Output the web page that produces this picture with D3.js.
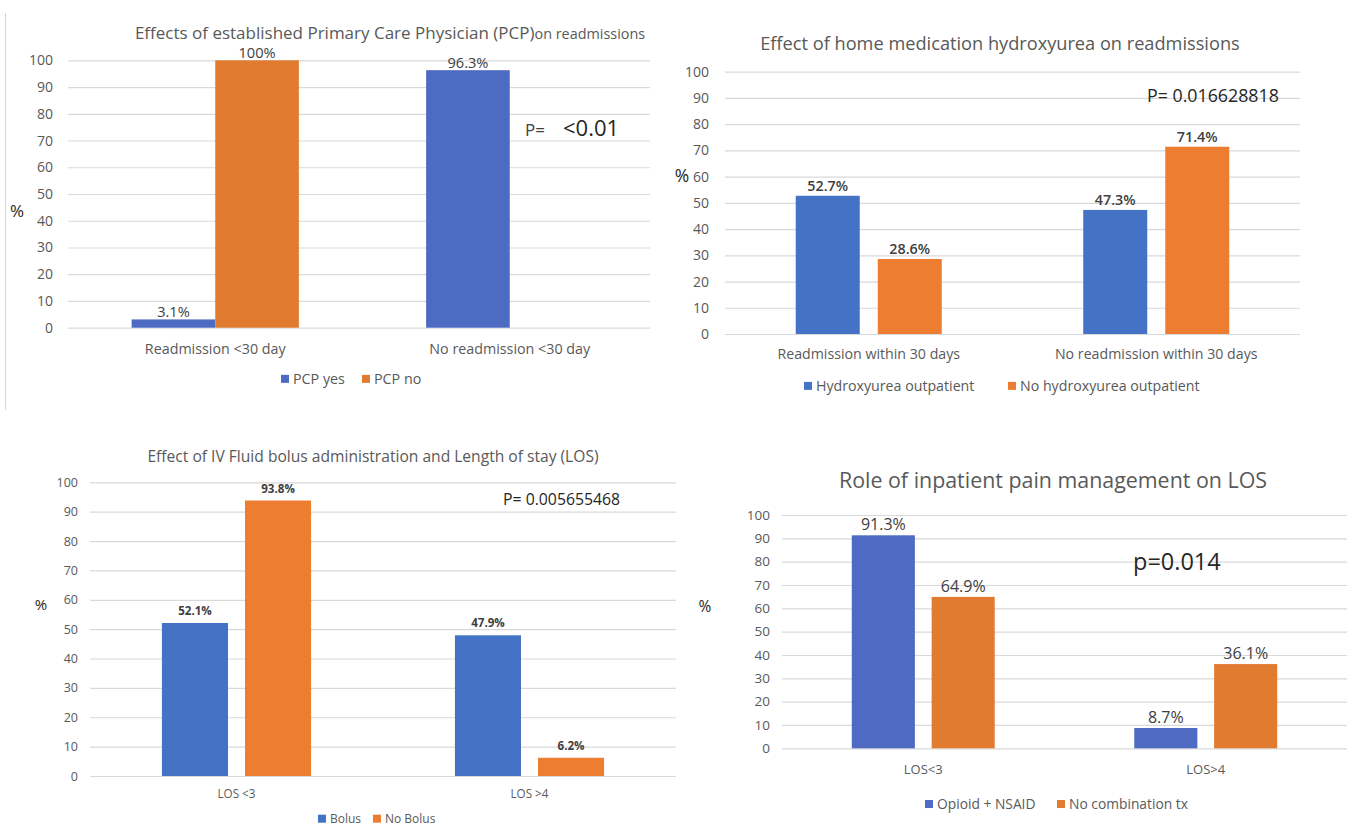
<!DOCTYPE html>
<html>
<head>
<meta charset="utf-8">
<script src="https://cdn.jsdelivr.net/npm/d3@7"></script>
<style>
  html, body { margin: 0; padding: 0; background: #ffffff; }
  svg { display: block; font-family: "Open Sans", "Noto Sans", sans-serif; }
</style>
</head>
<body>
<svg id="chart" width="1348" height="828"></svg>
<script>
// ---- data ----
const yTicks = [0, 10, 20, 30, 40, 50, 60, 70, 80, 90, 100];

const pcpCategories = ["Readmission <30 day", "No readmission <30 day"];
const pcpSeries = ["PCP yes", "PCP no"];
const pcpYes = [3.1, 96.3];
const pcpNo = [100, 0];

const hydroxyCategories = ["Readmission within 30 days", "No readmission within 30 days"];
const hydroxySeries = ["Hydroxyurea outpatient", "No hydroxyurea outpatient"];
const hydroxyYes = [52.7, 47.3];
const hydroxyNo = [28.6, 71.4];

const bolusCategories = ["LOS <3", "LOS >4"];
const bolusSeries = ["Bolus", "No Bolus"];
const bolusYes = [52.1, 47.9];
const bolusNo = [93.8, 6.2];

const painCategories = ["LOS<3", "LOS>4"];
const painSeries = ["Opioid + NSAID", "No combination tx"];
const painCombo = [91.3, 8.7];
const painNone = [64.9, 36.1];

// ---- panel layout and styling ----
const svg = d3.select("#chart");

const panels = [
  {
    categories: pcpCategories, series: pcpSeries, values: [pcpYes, pcpNo],
    colors: ["#4e6bc3", "#e07b2f"],
    x0: 68, x1: 657, gridEnd: 650, yTop: 60.3, yBottom: 327.7,
    groupFrac: 0.568, gap: 0,
    title: [{ text: "Effects of established Primary Care Physician (PCP)", size: 17 },
            { text: "on readmissions", size: 14.4 }],
    titleX: 390, titleY: 39,
    tickSize: 14, tickRight: 53,
    labelSize: 14.6, labelColor: "#404040", labelWeight: 400, labelGap: 2,
    catSize: 14.3, catY: 354,
    pct: { x: 17, y: 217, size: 17 },
    note: [{ text: "P=", x: 525, size: 17, color: "#404040" },
           { text: "<0.01", x: 563, size: 22, color: "#262626" }], noteY: 136,
    legendY: 384, legendSize: 14.3, legendX: [281, 362],
    border: true
  },
  {
    categories: hydroxyCategories, series: hydroxySeries, values: [hydroxyYes, hydroxyNo],
    colors: ["#4472c4", "#ed7d31"],
    x0: 725, x1: 1300, gridEnd: 1300, yTop: 71.7, yBottom: 334,
    groupFrac: 0.508, gap: 0.2195,
    title: [{ text: "Effect of home medication hydroxyurea on readmissions", size: 18.2 }],
    titleX: 1000, titleY: 50,
    tickSize: 14, tickRight: 709,
    labelSize: 14.3, labelColor: "#404040", labelWeight: 600, labelGap: 5,
    catSize: 14.2, catY: 359,
    pct: { x: 682, y: 182, size: 17.5 },
    note: [{ text: "P= 0.016628818", x: 1147, size: 17.8, color: "#262626" }], noteY: 102,
    legendY: 391, legendSize: 14.2, legendX: [804, 1008]
  },
  {
    categories: bolusCategories, series: bolusSeries, values: [bolusYes, bolusNo],
    colors: ["#4472c4", "#ed7d31"],
    x0: 90, x1: 676, gridEnd: 676, yTop: 482.3, yBottom: 776,
    groupFrac: 0.509, gap: 0.205,
    title: [{ text: "Effect of IV Fluid bolus administration and Length of stay (LOS)", size: 15.6 }],
    titleX: 373, titleY: 462,
    tickSize: 12.5, tickRight: 78,
    labelSize: 11.6, labelColor: "#404040", labelWeight: 700, labelGap: 8,
    catSize: 11.7, catY: 798,
    pct: { x: 41, y: 610, size: 15 },
    note: [{ text: "P= 0.005655468", x: 503, size: 15.8, color: "#262626" }], noteY: 505,
    legendY: 823, legendSize: 12, legendX: [318, 373]
  },
  {
    categories: painCategories, series: painSeries, values: [painCombo, painNone],
    colors: ["#4e6ac2", "#e07b30"],
    x0: 782, x1: 1347, gridEnd: 1347, yTop: 515, yBottom: 748.3,
    groupFrac: 0.506, gap: 0.21,
    title: [{ text: "Role of inpatient pain management on LOS", size: 21.4 }],
    titleX: 1053, titleY: 488,
    tickSize: 13.5, tickRight: 770,
    labelSize: 16, labelColor: "#404040", labelWeight: 400, labelGap: 5,
    catSize: 13, catY: 774,
    pct: { x: 705, y: 612, size: 15.5 },
    note: [{ text: "p=0.014", x: 1133, size: 23.5, color: "#262626" }], noteY: 570,
    legendY: 809, legendSize: 13.8, legendX: [925, 1057]
  }
];

const gridColor = "#d9d9d9";
const axisText = "#595959";

function fmtPct(v) {
  return (Number.isInteger(v) ? String(v) : v.toFixed(1)) + "%";
}

function drawPanel(p) {
  const g = svg.append("g");

  if (p.border) {
    g.append("line")
      .attr("x1", 5.5).attr("x2", 5.5).attr("y1", 13).attr("y2", 410)
      .attr("stroke", "#d6d6d6").attr("stroke-width", 1);
  }

  const y = d3.scaleLinear().domain([0, 100]).range([p.yBottom, p.yTop]);
  const x = d3.scaleBand().domain(p.categories).range([p.x0, p.x1]).padding(0);
  const step = x.bandwidth();
  const groupW = step * p.groupFrac;
  const xs = d3.scaleBand().domain(p.series)
    .range([(step - groupW) / 2, (step + groupW) / 2])
    .paddingInner(p.gap).paddingOuter(0);

  // horizontal gridlines with value ticks
  const yAxis = d3.axisLeft(y).tickValues(yTicks)
    .tickSize(-(p.gridEnd - p.x0)).tickPadding(p.x0 - p.tickRight);
  const ag = g.append("g").attr("transform", `translate(${p.x0},0)`).call(yAxis);
  ag.select(".domain").remove();
  ag.selectAll(".tick line").attr("stroke", gridColor).attr("stroke-width", 1.2);
  ag.selectAll(".tick text")
    .attr("fill", axisText).attr("font-size", p.tickSize)
    .attr("font-family", "'Open Sans', sans-serif");

  // bars
  const rows = [];
  p.categories.forEach((c, i) => {
    p.series.forEach((s, j) => rows.push({ cat: c, ser: s, idx: j, v: p.values[j][i] }));
  });
  const shown = rows.filter(d => d.v > 0);

  g.selectAll("rect.bar").data(shown).join("rect")
    .attr("class", "bar")
    .attr("x", d => x(d.cat) + xs(d.ser))
    .attr("width", xs.bandwidth())
    .attr("y", d => y(d.v))
    .attr("height", d => y(0) - y(d.v))
    .attr("fill", d => p.colors[d.idx]);

  // value labels
  g.selectAll("text.val").data(shown).join("text")
    .attr("class", "val")
    .attr("x", d => x(d.cat) + xs(d.ser) + xs.bandwidth() / 2)
    .attr("y", d => y(d.v) - p.labelGap)
    .attr("text-anchor", "middle")
    .attr("font-size", p.labelSize)
    .attr("font-weight", p.labelWeight)
    .attr("fill", p.labelColor)
    .text(d => fmtPct(d.v));

  // category labels
  g.selectAll("text.cat").data(p.categories).join("text")
    .attr("class", "cat")
    .attr("x", d => x(d) + step / 2)
    .attr("y", p.catY)
    .attr("text-anchor", "middle")
    .attr("font-size", p.catSize)
    .attr("fill", axisText)
    .text(d => d);

  // title
  const t = g.append("text").attr("x", p.titleX).attr("y", p.titleY)
    .attr("text-anchor", "middle").attr("fill", axisText);
  p.title.forEach(part => t.append("tspan").attr("font-size", part.size).text(part.text));

  // axis unit
  g.append("text").attr("x", p.pct.x).attr("y", p.pct.y)
    .attr("text-anchor", "middle").attr("font-size", p.pct.size)
    .attr("fill", "#262626").text("%");

  // p-value annotation
  p.note.forEach(n => {
    g.append("text").attr("x", n.x).attr("y", p.noteY)
      .attr("font-size", n.size).attr("fill", n.color).text(n.text);
  });

  // legend
  const sq = 8;
  p.series.forEach((s, j) => {
    const lx = p.legendX[j];
    g.append("rect").attr("x", lx).attr("y", p.legendY - p.legendSize * 0.36 - sq / 2)
      .attr("width", sq).attr("height", sq).attr("fill", p.colors[j]);
    g.append("text").attr("x", lx + sq + 4).attr("y", p.legendY)
      .attr("font-size", p.legendSize).attr("fill", axisText).text(s);
  });
}

panels.forEach(drawPanel);
</script>
</body>
</html>
